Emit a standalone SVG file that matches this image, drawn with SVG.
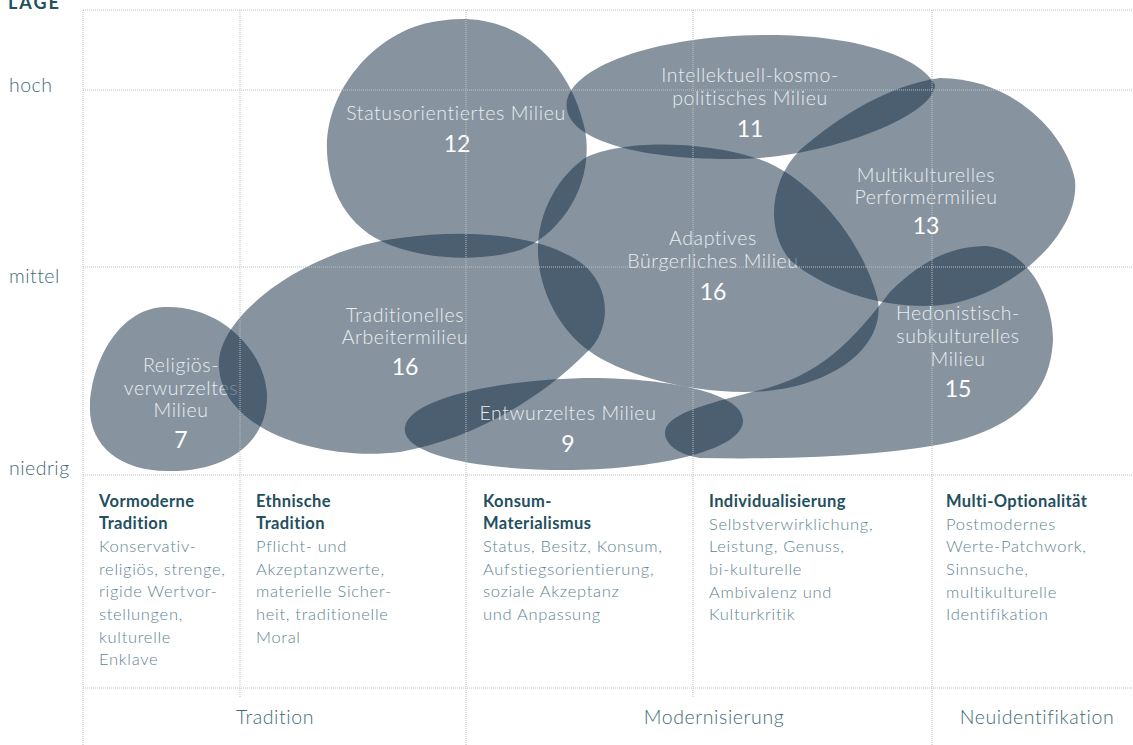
<svg xmlns="http://www.w3.org/2000/svg" width="1133" height="745" viewBox="0 0 1133 745">
<style>
  .blob { fill: #0f2941; fill-opacity: 0.5; }
  .grid { stroke: #b8c0c5; stroke-width: 1; stroke-dasharray: 1 1; fill: none; }
  .lbl { font-family: Lato, "Noto Sans", sans-serif; font-weight: 300; font-size: 19.5px; letter-spacing: 0.6px; fill: #e9edf0; text-anchor: middle; }
  .num { font-family: Lato, "Noto Sans", sans-serif; font-weight: 400; font-size: 23px; fill: #ffffff; text-anchor: middle; }
  .axis { font-family: Lato, "Noto Sans", sans-serif; font-weight: 300; font-size: 19.5px; letter-spacing: 0.5px; fill: #3f6b79; }
  .axisb { font-family: Lato, "Noto Sans", sans-serif; font-weight: 700; font-size: 18px; fill: #234f5e; letter-spacing: 2px; }
  .head { font-family: Lato, "Noto Sans", sans-serif; font-weight: 700; font-size: 16.5px; letter-spacing: 0.4px; fill: #234f5e; }
  .body { font-family: Lato, "Noto Sans", sans-serif; font-weight: 300; font-size: 16.5px; letter-spacing: 0.7px; fill: #5e8592; }
  .cat { font-family: Lato, "Noto Sans", sans-serif; font-weight: 300; font-size: 19.5px; letter-spacing: 0.6px; fill: #3f6b79; text-anchor: middle; }
</style>
<rect width="1133" height="745" fill="#ffffff"/>

<g id="blobs">
  <g id="node-religioes">
    <path class="blob" d="M165,307 C220,305 265,350 267,395 C268,440 230,471 170,471 C120,472 88,445 90,405 C92,360 120,308 165,307 Z"/>
    <text class="lbl" x="181" y="372">Religiös-</text>
    <text class="lbl" x="181" y="395">verwurzeltes</text>
    <text class="lbl" x="181" y="417">Milieu</text>
    <text class="num" x="181" y="448">7</text>
  </g>
  <g id="node-traditionell">
    <path class="blob" d="M219,367 C215,320 300,250 400,238 C470,228 540,235 580,262 C612,285 612,330 587,352 C540,400 470,440 400,452 C320,462 222,430 219,367 Z"/>
    <text class="lbl" x="405" y="322">Traditionelles</text>
    <text class="lbl" x="405" y="344">Arbeitermilieu</text>
    <text class="num" x="405" y="375">16</text>
  </g>
  <g id="node-status">
    <path class="blob" d="M467,19 C530,22 572,70 585,130 C595,185 560,235 520,250 C480,262 430,260 390,245 C345,228 325,185 327,140 C330,90 370,40 420,25 C437,20 452,19 467,19 Z"/>
    <text class="lbl" x="456" y="120">Statusorientiertes Milieu</text>
    <text class="num" x="457" y="152">12</text>
  </g>
  <g id="node-intellektuell">
    <path class="blob" d="M567,110 C560,70 650,36 763,35 C850,34 920,55 935,85 C935,112 850,150 760,158 C680,163 575,150 567,110 Z"/>
    <text class="lbl" x="750" y="82">Intellektuell-kosmo-</text>
    <text class="lbl" x="750" y="105">politisches Milieu</text>
    <text class="num" x="750" y="137">11</text>
  </g>
  <g id="node-adaptiv">
    <path class="blob" d="M585,158 C620,140 700,140 755,158 C800,170 860,230 878,300 C885,350 830,385 767,391 C700,397 620,375 588,350 C560,330 538,290 538,250 C538,210 560,175 585,158 Z"/>
    <text class="lbl" x="713" y="245">Adaptives</text>
    <text class="lbl" x="713" y="268">Bürgerliches Milieu</text>
    <text class="num" x="713" y="300">16</text>
  </g>
  <g id="node-multikulturell">
    <path class="blob" d="M800,150 C840,115 890,85 940,78 C1010,78 1065,130 1075,180 C1080,230 1020,290 950,304 C900,312 830,295 790,260 C765,230 770,180 800,150 Z"/>
    <text class="lbl" x="926" y="182">Multikulturelles</text>
    <text class="lbl" x="926" y="204">Performermilieu</text>
    <text class="num" x="926" y="234">13</text>
  </g>
  <g id="node-hedonistisch">
    <path class="blob" d="M665,433 C665,415 700,405 768,388 C830,370 860,330 890,292 C920,262 950,246 986,246 C1030,250 1053,300 1053,340 C1050,400 1010,425 960,440 C900,455 800,460 700,458 C680,455 665,445 665,433 Z"/>
    <text class="lbl" x="958" y="320">Hedonistisch-</text>
    <text class="lbl" x="958" y="343">subkulturelles</text>
    <text class="lbl" x="958" y="366">Milieu</text>
    <text class="num" x="958" y="397">15</text>
  </g>
  <g id="node-entwurzelt">
    <path class="blob" d="M405,427 C410,395 520,377 600,378 C680,380 745,395 743,422 C740,452 650,470 565,470 C480,470 400,455 405,427 Z"/>
    <text class="lbl" x="568" y="420">Entwurzeltes Milieu</text>
    <text class="num" x="568" y="452">9</text>
  </g>
</g>

<g id="connectors">
  <path class="grid" d="M83,10 H1133 M83,90 H1133 M83,267 H1133 M83,475 H1133 M83,688 H1133"/>
  <path class="grid" d="M83,10 V745 M240,10 V698 M466,10 V745 M693,10 V698 M932,10 V745"/>
</g>

<g id="axis-labels">
  <text class="axisb" x="8" y="9">LAGE</text>
  <text class="axis" x="9" y="92">hoch</text>
  <text class="axis" x="9" y="283">mittel</text>
  <text class="axis" x="9" y="475">niedrig</text>
</g>

<g id="col-1">
  <text class="head" x="99" y="507">Vormoderne</text>
  <text class="head" x="99" y="529">Tradition</text>
  <text class="body" x="99" y="552">Konservativ-</text>
  <text class="body" x="99" y="575">religiös, strenge,</text>
  <text class="body" x="99" y="597">rigide Wertvor-</text>
  <text class="body" x="99" y="620">stellungen,</text>
  <text class="body" x="99" y="643">kulturelle</text>
  <text class="body" x="99" y="665">Enklave</text>
</g>
<g id="col-2">
  <text class="head" x="256" y="507">Ethnische</text>
  <text class="head" x="256" y="529">Tradition</text>
  <text class="body" x="256" y="552">Pflicht- und</text>
  <text class="body" x="256" y="575">Akzeptanzwerte,</text>
  <text class="body" x="256" y="597">materielle Sicher-</text>
  <text class="body" x="256" y="620">heit, traditionelle</text>
  <text class="body" x="256" y="643">Moral</text>
</g>
<g id="col-3">
  <text class="head" x="483" y="507">Konsum-</text>
  <text class="head" x="483" y="529">Materialismus</text>
  <text class="body" x="483" y="552">Status, Besitz, Konsum,</text>
  <text class="body" x="483" y="575">Aufstiegsorientierung,</text>
  <text class="body" x="483" y="597">soziale Akzeptanz</text>
  <text class="body" x="483" y="620">und Anpassung</text>
</g>
<g id="col-4">
  <text class="head" x="709" y="507">Individualisierung</text>
  <text class="body" x="709" y="530">Selbstverwirklichung,</text>
  <text class="body" x="709" y="552">Leistung, Genuss,</text>
  <text class="body" x="709" y="575">bi-kulturelle</text>
  <text class="body" x="709" y="598">Ambivalenz und</text>
  <text class="body" x="709" y="620">Kulturkritik</text>
</g>
<g id="col-5">
  <text class="head" x="946" y="507">Multi-Optionalität</text>
  <text class="body" x="946" y="530">Postmodernes</text>
  <text class="body" x="946" y="552">Werte-Patchwork,</text>
  <text class="body" x="946" y="575">Sinnsuche,</text>
  <text class="body" x="946" y="598">multikulturelle</text>
  <text class="body" x="946" y="620">Identifikation</text>
</g>

<g id="categories">
  <text class="cat" x="275" y="724">Tradition</text>
  <text class="cat" x="714" y="724">Modernisierung</text>
  <text class="cat" x="1037" y="724">Neuidentifikation</text>
</g>
</svg>
